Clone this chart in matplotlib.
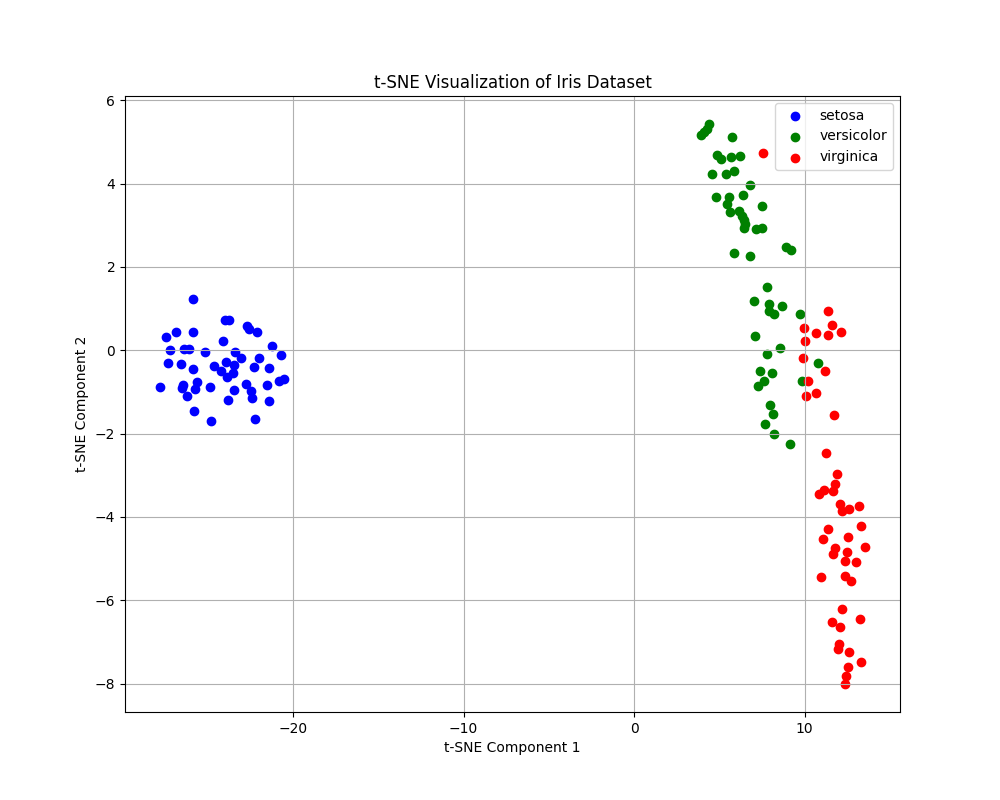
import matplotlib

matplotlib.use('Agg')
import matplotlib.pyplot as plt

# t-SNE coordinates, one pair of lists per species
setosa_x = [-25.85, -23.99, -23.76, -22.70, -22.58, -22.10, -27.45, -26.86, -25.85, -24.09,
            -21.24, -27.19, -26.37, -26.10, -25.14, -23.40, -23.05, -21.98, -20.69, -27.31,
            -26.55, -25.85, -24.63, -23.93, -23.46, -22.27, -21.39, -24.24, -23.50, -23.87,
            -27.78, -26.43, -26.49, -25.63, -25.75, -24.85, -22.74, -21.51, -20.81, -20.52,
            -26.20, -23.44, -22.47, -22.41, -23.80, -21.41, -25.80, -24.79, -22.21]
setosa_y = [1.23, 0.73, 0.73, 0.59, 0.52, 0.44, 0.32, 0.44, 0.44, 0.23,
            0.09, 0.01, 0.04, 0.04, -0.04, -0.04, -0.19, -0.18, -0.11, -0.30,
            -0.33, -0.45, -0.37, -0.28, -0.35, -0.40, -0.43, -0.50, -0.54, -0.65,
            -0.88, -0.83, -0.91, -0.77, -0.93, -0.88, -0.80, -0.83, -0.74, -0.68,
            -1.09, -0.95, -0.99, -1.14, -1.19, -1.23, -1.45, -1.71, -1.66]

versicolor_x = [4.36, 3.90, 4.07, 4.25, 5.73, 4.87, 5.11, 5.69, 6.18, 4.56,
                5.38, 5.85, 6.78, 4.77, 5.59, 5.46, 6.36, 7.51, 5.61, 6.14,
                6.32, 6.43, 6.51, 6.43, 7.16, 7.49, 5.83, 6.78, 8.92, 9.21,
                7.76, 7.02, 7.88, 8.66, 7.90, 8.17, 9.75, 7.08, 8.54, 7.78,
                10.77, 7.37, 8.07, 7.64, 7.29, 9.83, 7.96, 8.13, 7.66, 8.19, 9.13]
versicolor_y = [5.43, 5.16, 5.23, 5.30, 5.11, 4.68, 4.58, 4.63, 4.65, 4.23,
                4.23, 4.30, 3.96, 3.67, 3.67, 3.52, 3.72, 3.45, 3.32, 3.35,
                3.22, 3.13, 3.03, 2.93, 2.91, 2.94, 2.33, 2.25, 2.47, 2.40,
                1.51, 1.18, 1.10, 1.07, 0.95, 0.87, 0.88, 0.35, 0.05, -0.09,
                -0.31, -0.51, -0.55, -0.75, -0.85, -0.74, -1.31, -1.53, -1.78, -2.00, -2.26]

virginica_x = [7.53, 11.35, 11.57, 12.11, 9.95, 10.69, 11.35, 10.01, 9.87, 11.16,
               10.18, 10.69, 10.05, 11.69, 11.24, 11.88, 11.75, 11.67, 11.12, 10.81,
               12.06, 12.16, 12.58, 13.21, 11.35, 11.06, 13.29, 12.52, 11.76, 11.65,
               12.47, 13.52, 12.39, 12.98, 10.94, 12.37, 12.72, 12.20, 11.59, 12.08,
               13.25, 11.98, 11.96, 12.61, 13.29, 12.52, 12.41, 12.39]
virginica_y = [4.73, 0.94, 0.61, 0.44, 0.54, 0.42, 0.37, 0.23, -0.18, -0.51,
               -0.73, -1.03, -1.11, -1.56, -2.47, -2.96, -3.20, -3.38, -3.35, -3.44,
               -3.69, -3.86, -3.82, -3.73, -4.30, -4.52, -4.21, -4.48, -4.75, -4.88,
               -4.83, -4.71, -5.05, -5.07, -5.45, -5.42, -5.54, -6.20, -6.53, -6.63,
               -6.46, -7.04, -7.16, -7.23, -7.49, -7.60, -7.81, -8.01]

species = ['setosa', 'versicolor', 'virginica']
colors = ['blue', 'green', 'red']
xs = [setosa_x, versicolor_x, virginica_x]
ys = [setosa_y, versicolor_y, virginica_y]

fig, ax = plt.subplots(figsize=(10, 8), dpi=100)
for name, c, x, y in zip(species, colors, xs, ys):
    ax.scatter(x, y, c=c, label=name)

ax.set_title('t-SNE Visualization of Iris Dataset')
ax.set_xlabel('t-SNE Component 1')
ax.set_ylabel('t-SNE Component 2')
ax.legend()
ax.grid(True)

fig.savefig('out.png')
